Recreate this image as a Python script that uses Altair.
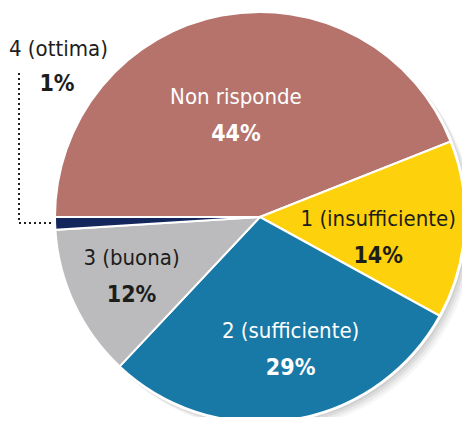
import math
import altair as alt
import pandas as pd

# ---- data ----
categories = ["Non risponde", "1 (insufficiente)", "2 (sufficiente)", "3 (buona)", "4 (ottima)"]
values = [44, 14, 29, 12, 1]
labels = ["44%", "14%", "29%", "12%", "1%"]
colors = ["#B5736C", "#FDD20C", "#1979A6", "#BBBBBD", "#14275C"]
text_colors = ["#FFFFFF", "#1D1D1B", "#FFFFFF", "#1D1D1B", "#1D1D1B"]

FONT = "'DejaVu Sans Condensed', Roboto, sans-serif"
W, H = 454, 409
CX, CY = 252, 209
R = 205
START = 1.5 * math.pi
THETA_RANGE = [START, START + 2 * math.pi]

df = pd.DataFrame({"cat": categories, "value": values, "label": labels, "idx": range(len(values))})
cum = df["value"].cumsum()
df["mid"] = cum - df["value"] / 2

total = pd.DataFrame({"value": [sum(values)]})

theta_scale = alt.Scale(range=THETA_RANGE)
base_props = dict(x=alt.value(CX), y=alt.value(CY))

layers = []
# soft shadow
for off, op in [(8, 0.05), (6, 0.07), (4, 0.09), (2, 0.1)]:
    layers.append(
        alt.Chart(total).mark_arc(outerRadius=R + 1, color="#555555", opacity=op).encode(
            theta=alt.Theta("value:Q", stack=True),
            x=alt.value(CX + off), y=alt.value(CY + off),
        )
    )
# white outline
layers.append(
    alt.Chart(total).mark_arc(outerRadius=R + 2, color="white").encode(
        theta=alt.Theta("value:Q", stack=True), **base_props
    )
)
# slices
layers.append(
    alt.Chart(df).mark_arc(outerRadius=R, stroke="white", strokeWidth=2).encode(
        theta=alt.Theta("value:Q", stack=True, scale=theta_scale),
        order=alt.Order("idx:Q"),
        color=alt.Color("cat:N", scale=alt.Scale(domain=categories, range=colors), legend=None),
        **base_props,
    )
)

# label placement (layout only)
label_radius = {"Non risponde": 104, "1 (insufficiente)": 120, "2 (sufficiente)": 136, "3 (buona)": 142}
label_toff = {"Non risponde": -0.045, "1 (insufficiente)": 0.11, "2 (sufficiente)": -0.07, "3 (buona)": 0.0}
mid_scale = alt.Scale(domain=[0, sum(values)], range=THETA_RANGE)
for cat, tc in zip(categories, text_colors):
    if cat not in label_radius:
        continue
    sub = alt.Chart(df).transform_filter(alt.datum.cat == cat)
    enc = dict(theta=alt.Theta("mid:Q", scale=mid_scale, stack=None), **base_props)
    layers.append(
        sub.mark_text(radius=label_radius[cat], thetaOffset=label_toff[cat], dy=-19,
                      font=FONT, fontSize=22, color=tc).encode(text="cat:N", **enc)
    )
    layers.append(
        sub.mark_text(radius=label_radius[cat], thetaOffset=label_toff[cat], dy=18,
                      font=FONT, fontSize=23, fontWeight="bold", color=tc).encode(text="label:N", **enc)
    )

# outside label for the tiny slice
ott = alt.Chart(df).transform_filter(alt.datum.cat == "4 (ottima)")
layers.append(ott.mark_text(font=FONT, fontSize=22, color="#1D1D1B", align="left").encode(
    text="cat:N", x=alt.value(1), y=alt.value(41)))
layers.append(ott.mark_text(font=FONT, fontSize=23, fontWeight="bold", color="#1D1D1B").encode(
    text="label:N", x=alt.value(49), y=alt.value(76)))
# dotted leader
layers.append(alt.Chart(total).mark_rule(color="#1D1D1B", strokeDash=[2, 3], strokeWidth=2).encode(
    x=alt.value(11), y=alt.value(65), y2=alt.value(215)))
layers.append(alt.Chart(total).mark_rule(color="#1D1D1B", strokeDash=[2, 3], strokeWidth=2).encode(
    x=alt.value(11), x2=alt.value(45), y=alt.value(215)))

chart = alt.layer(*layers).resolve_scale(theta="independent").properties(
    width=W, height=H, padding=0, autosize="none", background="white"
).configure_view(stroke=None)

chart.save("out.html", embed_options={"renderer": "svg", "actions": False})
